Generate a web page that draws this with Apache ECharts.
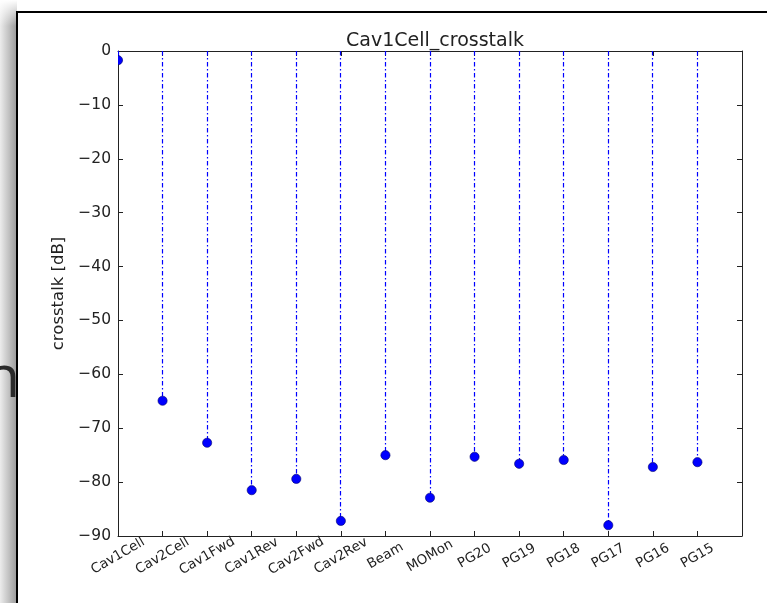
<!DOCTYPE html>
<html>
<head>
<meta charset="utf-8">
<script src="https://cdn.jsdelivr.net/npm/echarts@6/dist/echarts.min.js"></script>
<style>html,body{margin:0;padding:0;background:#fff}#c{width:767px;height:603px}</style>
</head>
<body>
<div id="c"></div>
<script>
const categories = ['Cav1Cell','Cav2Cell','Cav1Fwd','Cav1Rev','Cav2Fwd','Cav2Rev','Beam','MOMon','PG20','PG19','PG18','PG17','PG16','PG15'];
const crosstalk = [-1.7, -64.9, -72.7, -81.5, -79.4, -87.2, -75.0, -82.9, -75.3, -76.6, -75.9, -88.0, -77.2, -76.3];
const yTicks = [0, -10, -20, -30, -40, -50, -60, -70, -80, -90];
const titleText = 'Cav1Cell_crosstalk';
const yName = 'crosstalk [dB]';

const FONT = 'DejaVu Sans';
const data = crosstalk.map((v, i) => [i, v]);
const chart = echarts.init(document.getElementById('c'), null, {renderer: 'canvas'});

function renderStem(params, api) {
  const x = api.value(0), v = api.value(1);
  const p0 = api.coord([x, 0]);
  const p1 = api.coord([x, v]);
  const xs = Math.floor(p0[0]) + 0.5;
  return {
    type: 'group',
    children: [
      {type: 'line', shape: {x1: xs, y1: p0[1], x2: xs, y2: p1[1]},
       style: {stroke: '#0000ff', lineWidth: 1.2, lineDash: [4.5, 2.5, 1.5, 2.5], opacity: 1}},
      {type: 'circle', shape: {cx: p1[0], cy: p1[1], r: 4.6},
       style: {fill: '#0000ff', stroke: '#00006a', lineWidth: 0.6}}
    ]
  };
}

const axisLineStyle = {show: true, onZero: false, lineStyle: {color: '#222', width: 1}};
const tickStyle = {show: true, inside: true, length: 5, lineStyle: {color: '#222'}};

chart.setOption({
  animation: false,
  backgroundColor: '#fff',
  title: {
    text: titleText, left: 430, top: 27, textAlign: 'center',
    textStyle: {fontFamily: FONT, fontSize: 19, fontWeight: 'normal', color: '#222'}
  },
  grid: {left: 118, right: 25, top: 51, bottom: 67},
  xAxis: [{
    type: 'value', min: 0, max: 14, interval: 1, position: 'bottom',
    axisLine: axisLineStyle, axisTick: tickStyle, splitLine: {show: false},
    axisLabel: {
      rotate: 30, align: 'center', verticalAlign: 'middle', margin: 20,
      fontFamily: FONT, fontSize: 13.5, color: '#222',
      formatter: v => (v >= 0 && v < categories.length) ? categories[v] : ''
    }
  }, {
    type: 'value', min: 0, max: 14, interval: 1, position: 'top',
    axisLine: axisLineStyle, axisTick: tickStyle,
    splitLine: {show: false}, axisLabel: {show: false}
  }],
  yAxis: [{
    type: 'value', min: -90, max: 0, interval: 10, position: 'left',
    name: yName, nameLocation: 'middle', nameGap: 48, nameRotate: 90,
    nameTextStyle: {fontFamily: FONT, fontSize: 16.5, color: '#222'},
    axisLine: axisLineStyle, axisTick: tickStyle, splitLine: {show: false},
    axisLabel: {
      margin: 7, fontFamily: FONT, fontSize: 15.5, color: '#222',
      formatter: v => yTicks.includes(v) ? String(v).replace('-', '\u2212') : ''
    }
  }, {
    type: 'value', min: -90, max: 0, interval: 10, position: 'right',
    axisLine: axisLineStyle, axisTick: tickStyle,
    splitLine: {show: false}, axisLabel: {show: false}
  }],
  graphic: [
    {type: 'rect', z: -10, shape: {x: 0, y: 0, width: 17, height: 603},
     style: {fill: new echarts.graphic.LinearGradient(0, 0, 1, 0, [
       {offset: 0, color: '#ececec'}, {offset: 1, color: '#9a9a9a'}])}},
    {type: 'text', z: -9, style: {text: 'n', x: 20, y: 409, textAlign: 'right', textVerticalAlign: 'bottom',
      font: '58px "Open Sans"', fill: '#2a2a2a'}},
    {type: 'rect', z: -8, shape: {x: 0, y: 0, width: 17, height: 26},
     style: {fill: new echarts.graphic.LinearGradient(0, 0, 0, 1, [
       {offset: 0, color: 'rgba(255,255,255,1)'}, {offset: 1, color: 'rgba(255,255,255,0)'}])}},
    {type: 'rect', z: -7, shape: {x: 17, y: 0, width: 750, height: 603}, style: {fill: '#fff'}},
    {type: 'line', z: -6, shape: {x1: 17, y1: 12, x2: 767, y2: 12}, style: {stroke: '#000', lineWidth: 2}},
    {type: 'line', z: -6, shape: {x1: 17, y1: 11, x2: 17, y2: 603}, style: {stroke: '#000', lineWidth: 2}}
  ],
  series: [{
    type: 'custom', xAxisIndex: 0, yAxisIndex: 0,
    renderItem: renderStem, data: data, clip: true,
    encode: {x: 0, y: 1}
  }]
});
</script>
</body>
</html>
